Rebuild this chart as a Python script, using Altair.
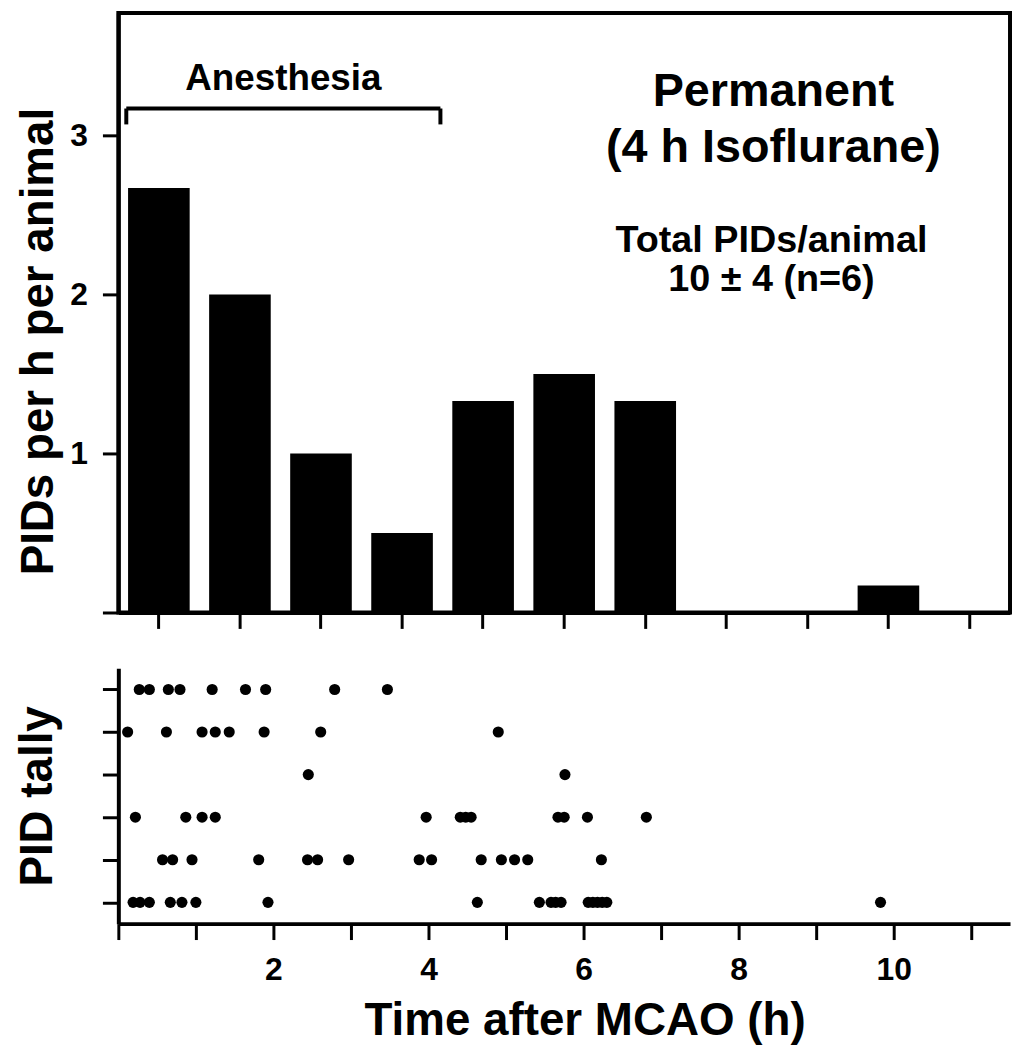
import altair as alt
import pandas as pd

FONT = "Liberation Sans"

# ---- data ----
hour_bins = [0, 1, 2, 3, 4, 5, 6, 7, 8, 9, 10]
pids_per_h = [2.67, 2.0, 1.0, 0.5, 1.33, 1.5, 1.33, 0.0, 0.0, 0.17, 0.0]

animal_1 = [0.19, 0.28, 0.40, 0.67, 0.82, 1.00, 1.93, 4.63, 5.43, 5.58, 5.64,
            5.71, 6.06, 6.12, 6.18, 6.24, 6.30, 9.83]
animal_2 = [0.57, 0.70, 0.95, 1.81, 2.44, 2.57, 2.97, 3.88, 4.04, 4.68, 4.94,
            5.11, 5.28, 6.23]
animal_3 = [0.22, 0.87, 1.08, 1.25, 3.97, 4.41, 4.48, 4.55, 5.67, 5.75, 6.05, 6.81]
animal_4 = [2.45, 5.76]
animal_5 = [0.12, 0.62, 1.08, 1.25, 1.43, 1.88, 2.61, 4.90]
animal_6 = [0.27, 0.40, 0.645, 0.795, 1.21, 1.64, 1.90, 2.79, 3.47]
animals = [animal_1, animal_2, animal_3, animal_4, animal_5, animal_6]

bars_df = pd.DataFrame({"bin": hour_bins, "rate": pids_per_h})
rows = []
for i, times in enumerate(animals, start=1):
    for t in times:
        rows.append({"animal": i, "time": t})
dots_df = pd.DataFrame(rows)

W = 897
TOP_H = 603
BOT_H = 257

axis_common = dict(
    domainColor="black", domainWidth=4, tickColor="black", tickWidth=3,
    tickSize=16, grid=False, labelFont=FONT, labelFontWeight="bold",
    labelFontSize=32, labelColor="black", titleFont=FONT, titleFontWeight="bold",
    titleFontSize=46, titleColor="black",
)

bars = alt.Chart(bars_df).mark_bar(color="black").encode(
    x=alt.X("bin:O", scale=alt.Scale(paddingInner=0.24, paddingOuter=0.12),
            axis=alt.Axis(labels=False, title=None, bandPosition=0.5, **axis_common)),
    y=alt.Y("rate:Q", scale=alt.Scale(domain=[0, 3.77], nice=False),
            axis=alt.Axis(values=[0, 1, 2, 3],
                          labelExpr="datum.value == 0 ? '' : datum.label",
                          labelPadding=15, titlePadding=7, titleY=330,
                          title="PIDs per h per animal", **axis_common)),
)

one = alt.Data(values=[{}])

def label(txt, x, y, size):
    return alt.Chart(one).mark_text(
        text=txt, font=FONT, fontWeight="bold", fontSize=size, color="black",
        align="center", baseline="alphabetic",
    ).encode(x=alt.value(x), y=alt.value(y))

bracket_h = alt.Chart(one).mark_rule(color="black", strokeWidth=4).encode(
    x=alt.value(8), x2=alt.value(324), y=alt.value(96))
bracket_l = alt.Chart(one).mark_rule(color="black", strokeWidth=4).encode(
    x=alt.value(8), y=alt.value(96), y2=alt.value(112))
bracket_r = alt.Chart(one).mark_rule(color="black", strokeWidth=4).encode(
    x=alt.value(324), y=alt.value(96), y2=alt.value(112))

top = alt.layer(
    bars,
    bracket_h, bracket_l, bracket_r,
    label("Anesthesia", 166, 77, 37),
    label("Permanent", 659, 93, 47),
    label("(4 h Isoflurane)", 659, 150, 47),
    label("Total PIDs/animal", 657, 240, 38),
    label("10 ± 4 (n=6)", 657, 280, 38),
).properties(width=W, height=TOP_H,
             view=alt.ViewBackground(stroke="black", strokeWidth=4))

dots = alt.Chart(dots_df).mark_circle(color="black", size=125, opacity=1).encode(
    x=alt.X("time:Q", scale=alt.Scale(domain=[0, 11.5], nice=False, zero=False),
            axis=alt.Axis(values=list(range(12)),
                          labelExpr="(datum.value % 2 == 0 && datum.value > 0) ? datum.label : ''",
                          labelPadding=15, titlePadding=14, titleX=469,
                          title="Time after MCAO (h)", **axis_common)),
    y=alt.Y("animal:Q", scale=alt.Scale(domain=[0.5, 6.5], nice=False, zero=False),
            axis=alt.Axis(values=[1, 2, 3, 4, 5, 6], labels=False,
                          titlePadding=40, title="PID tally", **axis_common)),
).properties(width=W, height=BOT_H)

chart = alt.vconcat(top, dots, spacing=35).properties(
    padding={"left": 6, "top": 0, "right": 0, "bottom": 0}
).configure_view(stroke="transparent")

chart.save("out.html", embed_options={"renderer": "svg", "actions": False})
